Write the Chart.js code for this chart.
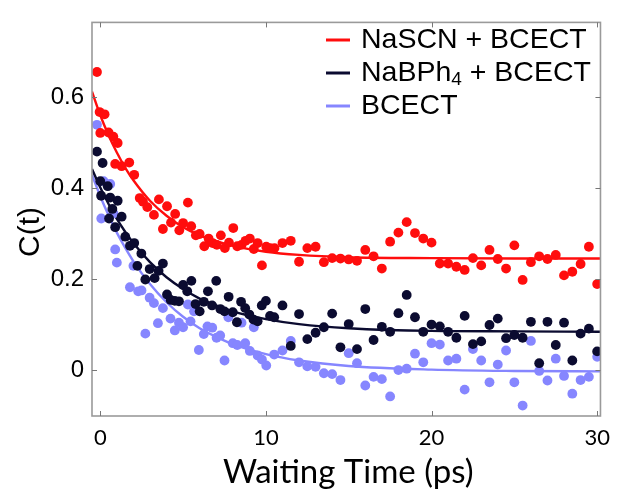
<!DOCTYPE html>
<html>
<head>
<meta charset="utf-8">
<script src="https://cdn.jsdelivr.net/npm/chart.js@4.4.0/dist/chart.umd.min.js"></script>
<style>
  html, body { margin: 0; padding: 0; background: #fff; }
  #wrap { width: 619px; height: 492px; }
</style>
</head>
<body>
<div id="wrap"><canvas id="decayChart" width="619" height="492"></canvas></div>
<script>
// C(t) decay vs waiting time, three samples with their fitted curves
const seriesNames = ['NaSCN + BCECT', 'NaBPh4 + BCECT', 'BCECT'];
const seriesColors = ['#ff0d0d', '#0b0b30', '#8686ff'];

const xTicks = [0, 10, 20, 30];
const yTicks = [0, 0.2, 0.4, 0.6];

// NaSCN + BCECT
const scnTime = [-0.2, -0.04, 0, 0.26, 0.5, 0.79, 0.9, 1.05, 1.29, 1.75, 2.05, 2.38, 2.58, 2.84, 3.24, 3.54, 3.78, 4.03, 4.27,
  4.52, 4.77, 5.0, 5.29, 5.49, 5.77, 6.0, 6.28, 6.54, 6.78, 7.04, 7.28, 7.52, 7.77, 8.03, 8.27, 8.53, 8.77, 9.03, 9.27, 9.5, 9.76, 10.02, 10.26, 10.52,
  11, 11.5, 12, 12.5, 13, 13.5, 14, 14.5, 15, 15.5, 16, 16.5, 17, 17.5, 18, 18.5, 19, 19.5, 20, 20.5, 21, 21.5, 22, 22.5, 23, 23.5, 24, 24.5,
  25, 25.5, 26, 26.5, 27, 27.5, 28, 28.5, 29, 29.5, 30];
const scnC = [0.656, 0.568, 0.522, 0.563, 0.523, 0.514, 0.454, 0.50, 0.449, 0.457, 0.43, 0.379, 0.371, 0.359, 0.342, 0.376, 0.311, 0.361, 0.325,
  0.344, 0.308, 0.324, 0.369, 0.317, 0.297, 0.30, 0.273, 0.29, 0.28, 0.276, 0.297, 0.269, 0.281, 0.313, 0.273, 0.276, 0.285, 0.29, 0.267, 0.28, 0.231, 0.272, 0.269, 0.269,
  0.28, 0.285, 0.239, 0.269, 0.272, 0.238, 0.247, 0.246, 0.244, 0.241, 0.265, 0.251, 0.224, 0.283, 0.303, 0.326, 0.302, 0.29, 0.281, 0.235, 0.235, 0.228, 0.221, 0.247, 0.231, 0.265, 0.245, 0.224,
  0.275, 0.199, 0.238, 0.251, 0.245, 0.254, 0.209, 0.217, 0.234, 0.272, 0.19];

// NaBPh4 + BCECT
const bph4Time = [-0.2, 0, 0.05, 0.14, 0.45, 0.53, 0.6, 0.73, 0.9, 1.05, 1.29, 1.51, 1.79, 2.05, 2.24, 2.48, 2.72, 2.98, 3.28, 3.52, 3.78, 4.03, 4.25,
  4.5, 4.75, 5.0, 5.25, 5.5, 5.75, 6.0, 6.25, 6.5, 6.75, 7.0, 7.25, 7.5, 7.75, 8.0, 8.25, 8.5, 8.75, 9.0, 9.25, 9.5, 9.75, 10.0, 10.25, 10.5,
  11, 11.5, 12, 12.5, 13, 13.5, 14, 14.5, 15, 15.5, 16, 16.5, 17, 17.5, 18, 18.5, 19, 19.5, 20, 20.5, 21, 21.5, 22, 22.5, 23, 23.5, 24, 24.5,
  25, 25.5, 26, 26.5, 27, 27.5, 28, 28.5, 29, 29.5, 30];
const bph4C = [0.481, 0.416, 0.384, 0.456, 0.405, 0.334, 0.38, 0.355, 0.315, 0.373, 0.338, 0.294, 0.274, 0.28, 0.23, 0.257, 0.20, 0.223, 0.203, 0.219, 0.235, 0.167, 0.155,
  0.153, 0.152, 0.188, 0.174, 0.197, 0.146, 0.13, 0.151, 0.174, 0.143, 0.197, 0.135, 0.13, 0.162, 0.128, 0.106, 0.151, 0.137, 0.123, 0.112, 0.108, 0.143, 0.153, 0.12, 0.117,
  0.143, 0.054, 0.124, 0.069, 0.083, 0.095, 0.125, 0.051, 0.102, 0.047, 0.135, 0.067, 0.096, 0.085, 0.126, 0.166, 0.117, 0.085, 0.101, 0.097, 0.085, 0.072, 0.12, 0.058, 0.064, 0.1, 0.114, 0.071,
  0.078, 0.072, 0.107, 0.016, 0.107, 0.056, 0.105, 0.022, 0.081, 0.092, 0.042];

// BCECT alone
const bcectTime = [-0.2, 0.06, 0.2, 0.6, 0.8, 0.9, 1.0, 1.79, 2.0, 2.29, 2.49, 2.72, 2.98, 3.24, 3.48, 3.78, 4.24, 4.5, 4.75, 5.0, 5.29, 5.45, 5.66,
  5.95, 6.25, 6.47, 6.76, 7.02, 7.24, 7.5, 7.73, 8.0, 8.27, 8.53, 8.75, 9.03, 9.27, 9.5, 9.76, 10.02, 10.5,
  11, 11.5, 12, 12.5, 13, 13.5, 14, 14.5, 15, 15.5, 16, 16.5, 17, 17.5, 18, 18.5, 19, 19.5, 20, 20.5, 21, 21.5, 22, 22.5, 23, 23.5, 24, 24.5,
  25, 25.5, 26, 26.5, 27, 27.5, 28, 28.5, 29, 29.5, 30];
const bcectC = [0.54, 0.334, 0.416, 0.41, 0.345, 0.266, 0.237, 0.183, 0.23, 0.174, 0.176, 0.081, 0.16, 0.148, 0.104, 0.137, 0.114, 0.088, 0.105, 0.095, 0.145, 0.108, 0.13,
  0.045, 0.08, 0.097, 0.094, 0.072, 0.077, 0.022, 0.117, 0.06, 0.056, 0.105, 0.06, 0.043, 0.095, 0.033, 0.024, 0.011, 0.035,
  0.044, 0.065, 0.018, 0.009, 0.008, -0.006, -0.008, -0.021, 0.038, 0.016, -0.033, -0.014, -0.019, -0.057, 0.001, 0.004, 0.037, 0.018, 0.06, 0.057, 0.022, 0.026, -0.042, 0.047, 0.022, -0.026, 0.013, 0.044,
  -0.026, -0.077, 0.065, -0.001, -0.022, 0.026, -0.012, -0.051, -0.021, -0.014, 0.03];

// fitted curves, sampled along the time axis
const fitTime = [-0.5, 0, 0.5, 1, 1.5, 2, 3, 4, 5, 6, 7, 8, 10, 12, 15, 20, 25, 30.2];
const scnFit = [0.613, 0.561, 0.517, 0.479, 0.446, 0.418, 0.373, 0.340, 0.315, 0.297, 0.284, 0.274, 0.261, 0.254, 0.249, 0.247, 0.246, 0.246];
const bph4Fit = [0.443, 0.402, 0.366, 0.333, 0.305, 0.280, 0.238, 0.205, 0.179, 0.158, 0.143, 0.130, 0.113, 0.102, 0.093, 0.087, 0.086, 0.085];
const bcectFit = [0.430, 0.383, 0.341, 0.303, 0.270, 0.240, 0.190, 0.150, 0.118, 0.093, 0.074, 0.058, 0.036, 0.022, 0.010, 0.002, -0.001, -0.002];

function toPoints(xs, ys) {
    return xs.map((x, i) => ({ x: x, y: ys[i] }));
}

function scatterSet(xs, ys, color, order) {
    return {
        type: 'scatter',
        data: toPoints(xs, ys),
        backgroundColor: color,
        borderWidth: 0,
        pointRadius: 4.9,
        order: order
    };
}

function fitSet(ys, color, order) {
    return {
        type: 'line',
        data: toPoints(fitTime, ys),
        borderColor: color,
        borderWidth: 2.4,
        pointRadius: 0,
        fill: false,
        cubicInterpolationMode: 'monotone',
        order: order
    };
}

// frame with inward ticks on all four sides, titles and legend
const framePlugin = {
    id: 'frame',
    afterDraw(chart) {
        const c = chart.ctx;
        const a = chart.chartArea;
        const xs = chart.scales.x, ys = chart.scales.y;
        c.save();
        c.strokeStyle = '#9a9a9a';
        c.lineWidth = 1.6;
        c.strokeRect(a.left, a.top, a.right - a.left, a.bottom - a.top);
        c.lineWidth = 1;
        c.strokeStyle = '#777';
        const len = 5;
        c.beginPath();
        xTicks.forEach(v => {
            const px = Math.round(xs.getPixelForValue(v)) + 0.5;
            c.moveTo(px, a.bottom); c.lineTo(px, a.bottom - len);
            c.moveTo(px, a.top); c.lineTo(px, a.top + len);
        });
        yTicks.forEach(v => {
            const py = Math.round(ys.getPixelForValue(v)) + 0.5;
            c.moveTo(a.left, py); c.lineTo(a.left + len, py);
            c.moveTo(a.right, py); c.lineTo(a.right - len, py);
        });
        c.stroke();

        // axis titles
        c.fillStyle = '#000';
        c.font = '33px Lato';
        c.textAlign = 'center';
        c.textBaseline = 'middle';
        c.fillText('Waiting Time (ps)', (a.left + a.right) / 2 + 2, 472);
        c.save();
        c.translate(31, 232);
        c.rotate(-Math.PI / 2);
        c.font = '30px "Liberation Sans"';
        c.fillText('C(t)', 0, 0);
        c.restore();

        // legend
        const rowY = [40, 73, 106];
        c.textAlign = 'left';
        seriesNames.forEach((name, i) => {
            c.strokeStyle = seriesColors[i];
            c.lineWidth = 3;
            c.beginPath();
            c.moveTo(326, rowY[i]); c.lineTo(350, rowY[i]);
            c.stroke();
            let x = 361;
            for (let k = 0; k < name.length; k++) {
                const ch = name[k];
                const sub = /[0-9]/.test(ch) && k > 0 && /[a-zA-Z]/.test(name[k - 1]);
                c.font = sub ? '19px "Liberation Sans"' : '28.5px "Liberation Sans"';
                c.fillText(ch, x, rowY[i] + (sub ? 7 : 0));
                x += c.measureText(ch).width;
            }
        });
        c.restore();
    }
};

const ctx = document.getElementById('decayChart').getContext('2d');
new Chart(ctx, {
    type: 'scatter',
    data: {
        datasets: [
            scatterSet(bph4Time, bph4C, seriesColors[1], 1),
            scatterSet(scnTime, scnC, seriesColors[0], 2),
            scatterSet(bcectTime, bcectC, seriesColors[2], 3),
            fitSet(scnFit, seriesColors[0], 4),
            fitSet(bph4Fit, seriesColors[1], 5),
            fitSet(bcectFit, seriesColors[2], 6)
        ]
    },
    options: {
        responsive: false,
        animation: false,
        layout: { padding: { top: 13, right: 13, left: 0, bottom: 0 } },
        plugins: {
            legend: { display: false },
            tooltip: { enabled: false }
        },
        scales: {
            x: {
                type: 'linear',
                min: -0.5,
                max: 30.2,
                grid: { display: false, drawTicks: false },
                border: { display: false },
                afterBuildTicks: s => { s.ticks = xTicks.map(v => ({ value: v })); },
                afterFit: s => { s.height = 76; },
                ticks: {
                    font: { family: 'Lato', size: 22 },
                    color: '#000',
                    padding: 9,
                    maxRotation: 0,
                    callback: v => String(v)
                }
            },
            y: {
                type: 'linear',
                min: -0.1,
                max: 0.765,
                grid: { display: false, drawTicks: false },
                border: { display: false },
                afterBuildTicks: s => { s.ticks = yTicks.map(v => ({ value: v })); },
                afterFit: s => { s.width = 92; },
                ticks: {
                    font: { family: 'Liberation Sans', size: 24 },
                    color: '#000',
                    padding: 8,
                    callback: v => (v === 0 ? '0' : v.toFixed(1))
                }
            }
        }
    },
    plugins: [framePlugin]
});
</script>
</body>
</html>
